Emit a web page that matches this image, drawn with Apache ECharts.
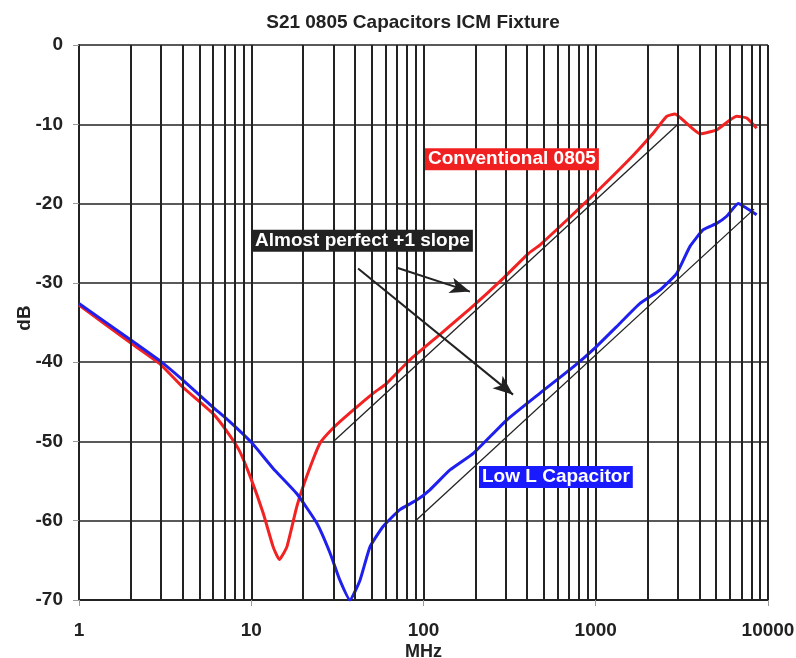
<!DOCTYPE html>
<html><head><meta charset="utf-8">
<script src="https://cdn.jsdelivr.net/npm/echarts@6/dist/echarts.min.js"></script>
<style>html,body{margin:0;padding:0;background:#fff}#c{width:796px;height:658px}</style>
</head><body><div id="c"></div>
<script>
// ---- data ----
const freqConv = [1, 2.0, 2.98, 3.98, 5.94, 7.1, 8.5, 9.93, 11.75, 13.4, 14.55, 16.1, 18.4, 21, 25.1, 29.9, 37.4, 51.2, 61, 83.5, 124.6, 194.5, 291, 406, 475, 678, 1059, 1652, 2160, 2580, 2885, 3374, 4030, 5035, 6580, 7520, 8590];
const dbConv   = [-32.8, -37.6, -40.3, -43.1, -46.4, -48.5, -51.1, -54.6, -59.1, -63.3, -64.9, -63.3, -58.2, -54.4, -50.2, -48.3, -46.4, -43.9, -42.7, -39.7, -36.5, -32.9, -29.4, -26.3, -25.2, -22.1, -18.1, -13.9, -11.1, -9.0, -8.7, -9.9, -11.2, -10.7, -9.0, -9.2, -10.5];
const freqLowL = [1, 2.0, 2.98, 3.98, 5.94, 7.5, 10.1, 13.4, 18.4, 24, 28.7, 32.7, 37.4, 42.8, 48.9, 58.4, 73, 91.3, 109, 142.5, 194.5, 304, 475, 741, 1013, 1383, 1807, 2361, 2953, 3525, 4210, 5035, 5755, 6725, 7520, 8590];
const dbLowL   = [-32.6, -37.2, -39.9, -42.2, -45.6, -47.5, -50.2, -53.4, -56.6, -60.3, -64.1, -67.5, -70.0, -67.5, -63.3, -60.7, -58.6, -57.4, -56.1, -53.6, -51.5, -47.3, -43.9, -40.6, -38.0, -35.1, -32.6, -30.9, -28.8, -25.4, -23.3, -22.5, -21.6, -20.0, -20.6, -21.4];
// +1 slope reference lines (20 dB/decade)
const slopeConv = [[30, -50], [3000, -10]];
const slopeLowL = [[90, -60], [8300, -20.7]];
// arrows from the "Almost perfect +1 slope" note
const arrow1 = [[70.2, -28.1], [186, -31.1]];
const arrow2 = [[41.7, -28.2], [331, -44.1]];
// note anchors (left edge, vertical centre)
const noteConv = [102, -14.4];
const noteSlope = [10.1, -24.7];
const noteLowL = [210, -54.5];
// axis
const xDecades = [1, 10, 100, 1000];
const xMinorMult = [2, 3, 4, 5, 6, 7, 8, 9];
const yMin = -70, yMax = 0, yStep = 10;

const minorGrid = [];
xDecades.forEach(d => xMinorMult.forEach(m => minorGrid.push({xAxis: d * m})));

const FONT = "'Liberation Sans', Arial, sans-serif";
const zip = (a, b) => a.map((v, i) => [v, b[i]]);

function note(coord, text, bg) {
  return {
    coord: coord, symbol: 'rect', symbolSize: 0,
    label: {show: true, position: 'right', distance: 0, formatter: text,
      color: '#fff', fontFamily: FONT, fontWeight: 'bold', fontSize: 19,
      backgroundColor: bg, padding: [2, 3, 1, 3], lineHeight: 19}
  };
}
function arrow(seg) {
  return [{coord: seg[0], symbol: 'none'}, {coord: seg[1], symbol: 'arrow'}];
}

const chart = echarts.init(document.getElementById('c'), null, {renderer: 'canvas'});
chart.setOption({
  animation: false,
  backgroundColor: '#fff',
  title: {text: 'S21 0805 Capacitors ICM Fixture', left: 408, top: 8, textAlign: 'center',
    textStyle: {fontFamily: FONT, fontWeight: 'bold', fontSize: 19, color: '#222'}},
  graphic: [{type: 'text', x: 25, y: 318, rotation: Math.PI / 2,
    style: {text: 'dB', fill: '#222', font: "bold 19px 'Liberation Sans', Arial, sans-serif",
      align: 'center', verticalAlign: 'middle'}}],
  grid: {left: 79, right: 28, top: 45, bottom: 58, containLabel: false, outerBoundsMode: 'none'},
  xAxis: {
    type: 'log', logBase: 10, min: 1, max: 10000,
    name: 'MHz', nameLocation: 'middle', nameGap: 43, nameMoveOverlap: false,
    nameTextStyle: {fontFamily: FONT, fontWeight: 'bold', fontSize: 18, color: '#222'},
    axisLine: {show: true, onZero: false, lineStyle: {color: '#222', width: 2}},
    axisTick: {show: true, length: 6, lineStyle: {color: '#999'}},
    axisLabel: {margin: 21, fontFamily: FONT, fontWeight: 'bold', fontSize: 19, color: '#222',
      formatter: v => String(Math.round(v))},
    splitLine: {show: true, lineStyle: {color: '#222', width: 2}}
  },
  yAxis: {
    type: 'value', min: yMin, max: yMax, interval: yStep,
    axisLine: {show: true, onZero: false, lineStyle: {color: '#222', width: 2}},
    axisTick: {show: true, length: 6, lineStyle: {color: '#999'}},
    axisLabel: {margin: 16, fontFamily: FONT, fontWeight: 'bold', fontSize: 19, color: '#222'},
    splitLine: {show: true, lineStyle: {color: '#222', width: 1.6}}
  },
  series: [
    {type: 'line', name: 'grid', data: [], z: 1, silent: true,
      markLine: {silent: true, symbol: 'none', label: {show: false},
        lineStyle: {color: '#222', width: 2, type: 'solid'}, data: minorGrid}},
    {type: 'line', name: 'slope1', data: slopeConv, z: 2, showSymbol: false, silent: true,
      lineStyle: {color: '#222', width: 1.3},
      markLine: {silent: true, label: {show: false}, symbolSize: [12, 20],
        lineStyle: {color: '#222', width: 2, type: 'solid'},
        data: [arrow(arrow1), arrow(arrow2)]},
      markPoint: {silent: true, data: [note(noteSlope, 'Almost perfect +1 slope', '#222')]}},
    {type: 'line', name: 'slope2', data: slopeLowL, z: 2, showSymbol: false, silent: true,
      lineStyle: {color: '#222', width: 1.3}},
    {type: 'line', name: 'Conventional 0805', data: zip(freqConv, dbConv), z: 3,
      showSymbol: false, smooth: 0.15, lineStyle: {color: '#f22222', width: 3},
      markPoint: {silent: true, data: [note(noteConv, 'Conventional 0805', '#f02020')]}},
    {type: 'line', name: 'Low L Capacitor', data: zip(freqLowL, dbLowL), z: 3,
      showSymbol: false, smooth: 0.15, lineStyle: {color: '#2020ee', width: 3},
      markPoint: {silent: true, data: [note(noteLowL, 'Low L Capacitor', '#1a1aff')]}}
  ]
});
</script></body></html>
